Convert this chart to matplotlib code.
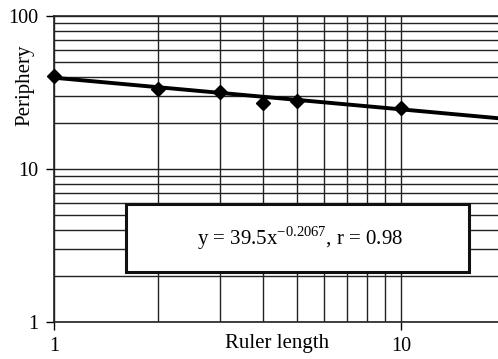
import numpy as np
import matplotlib.pyplot as plt
from matplotlib.ticker import LogLocator, NullFormatter, FixedLocator

plt.rcParams['font.family'] = ['Liberation Serif', 'DejaVu Serif']

# Datos
ruler = [1, 2, 3, 4, 5, 10]
periphery = [40.3, 33.1, 32.1, 26.9, 27.7, 24.9]
a, b = 39.5, -0.2067

fig = plt.figure(figsize=(4.98, 3.59), dpi=100)
W, H = 498, 359
# eje en píxeles: izquierda 54, arriba 16, abajo 322, derecha fuera de la figura (x=20)
right = 54 + 347 * np.log10(20)
ax = fig.add_axes([54 / W, (H - 322) / H, (right - 54) / W, (322 - 16) / H])
ax.set_xscale('log')
ax.set_yscale('log')
ax.set_xlim(1, 20)
ax.set_ylim(1, 100)

# rejilla
ax.xaxis.set_major_locator(FixedLocator([1, 10]))
ax.xaxis.set_minor_locator(FixedLocator([2, 3, 4, 5, 6, 7, 8, 9]))
ax.yaxis.set_major_locator(FixedLocator([1, 10, 100]))
ax.yaxis.set_minor_locator(LogLocator(base=10, subs=np.arange(2, 10)))
ax.xaxis.set_minor_formatter(NullFormatter())
ax.yaxis.set_minor_formatter(NullFormatter())
ax.set_xticks([1, 10], ['1', '10'])
ax.set_yticks([1, 10, 100], ['1', '10', '100'])
ax.grid(True, which='both', color='#222222', lw=1.0)
ax.tick_params(which='minor', length=0)
ax.tick_params(which='major', direction='out', length=6, width=1, labelsize=14.5, pad=5)

for s in ['left', 'top', 'bottom']:
    ax.spines[s].set_color('#222222')
    ax.spines[s].set_linewidth(1.2)
ax.spines['right'].set_visible(False)

# ajuste y puntos
xf = np.linspace(1, 20, 200)
ax.plot(xf, a * xf ** b, color='black', lw=2.8, zorder=3)
ax.plot(ruler, periphery, 'D', color='black', ms=7, zorder=4, clip_on=False)

ax.set_ylabel('Periphery', fontsize=15)
ax.yaxis.set_label_coords(-(54 - 34) / (right - 54), (322 - 85) / 306)
ax.set_xlabel('Ruler length', fontsize=15)
ax.xaxis.set_label_coords((277 - 54) / (right - 54), -(334 - 322) / 306)

# cuadro de la ecuación
fig.text(300 / W, 1 - 238 / H, r'y = 39.5x$^{\mathregular{-0.2067}}$, r = 0.98',
         ha='center', va='center', fontsize=15, zorder=10)
box = plt.Rectangle((126 / W, 1 - 272 / H), (469 - 126) / W, (272 - 204) / H,
                    transform=fig.transFigure, fc='white', ec='#111111', lw=2.2, zorder=5)
fig.patches.append(box)

fig.savefig('out.png', dpi=100)
